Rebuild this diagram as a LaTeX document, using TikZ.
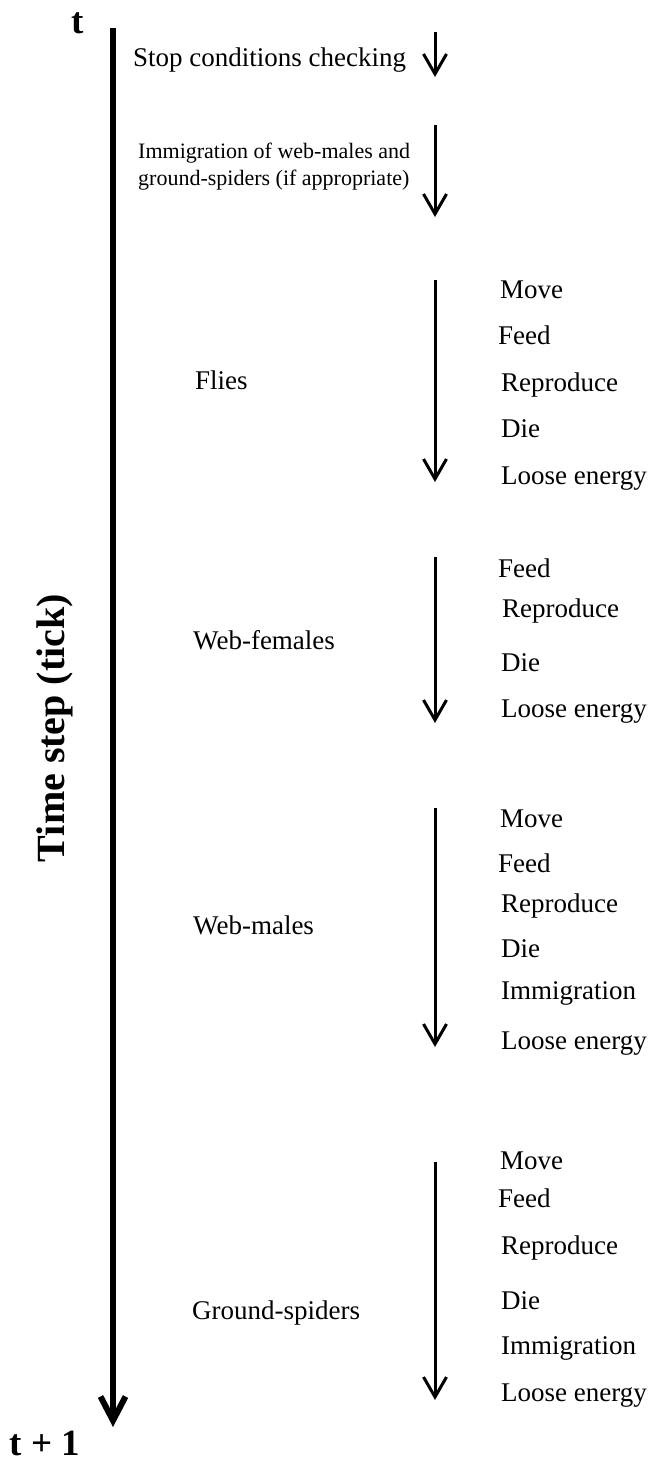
\documentclass[tikz,border=0pt]{standalone}
\usepackage{fontspec}
\setmainfont{Liberation Serif}
\usetikzlibrary{arrows.meta,positioning}

\begin{document}
\begin{tikzpicture}[x=1pt,y=-1pt,
    lbl/.style={anchor=west,inner sep=0pt,text height=18pt,text depth=0pt,font=\fontsize{27}{32}\selectfont},
    smalllbl/.style={anchor=west,inner sep=0pt,align=left,font=\fontsize{22}{27}\selectfont},
    boldlbl/.style={inner sep=0pt,font=\fontsize{37}{44}\selectfont\bfseries},
    axisarrow/.style={line width=6pt,-{Straight Barb[length=24pt,width=25pt,line width=6pt]}},
    steparrow/.style={line width=3pt,-{Straight Barb[length=20pt,width=23pt,line width=3pt]}}]
    \useasboundingbox (0,0) rectangle (651,1465);

    % Time axis
    \coordinate (axisTop) at (113,28);
    \coordinate (axisEnd) at (113,1427);
    \draw[axisarrow] (axisTop) -- (axisEnd);
    \node[boldlbl] (tStart) at (78,23) {t};
    \node[boldlbl] (tNext) at (45,1443) {t + 1};
    \node[boldlbl,rotate=90,font=\fontsize{40}{46}\selectfont\bfseries] (axisName) at (55,728) {Time step (tick)};

    % Stop conditions
    \node[lbl] (stopCheck) at (133,57) {Stop conditions checking};
    \coordinate (stopTop) at (435,32);
    \coordinate (stopEnd) at (435,77);
    \draw[steparrow] (stopTop) -- (stopEnd);

    % Immigration
    \node[smalllbl] (immig) at (138,167) {Immigration of web-males and\\ground-spiders (if appropriate)};
    \coordinate (immigTop) at (435,125);
    \coordinate (immigEnd) at (435,217);
    \draw[steparrow] (immigTop) -- (immigEnd);

    % Flies
    \node[lbl] (flies) at (195,380) {Flies};
    \coordinate (fliesTop) at (435,280);
    \coordinate (fliesEnd) at (435,482);
    \draw[steparrow] (fliesTop) -- (fliesEnd);
    \foreach \y/\x/\txt [count=\i] in {289/500/Move, 335/498/Feed, 382/501/Reproduce, 428/501/Die, 475/501/Loose energy}
        \node[lbl] (flies\i) at (\x,\y) {\txt};

    % Web-females
    \node[lbl] (webfemales) at (193,640) {Web-females};
    \coordinate (webfTop) at (435,557);
    \coordinate (webfEnd) at (435,723);
    \draw[steparrow] (webfTop) -- (webfEnd);
    \foreach \y/\x/\txt [count=\i] in {568/498/Feed, 608/502/Reproduce, 662/501/Die, 708/501/Loose energy}
        \node[lbl] (webf\i) at (\x,\y) {\txt};

    % Web-males
    \node[lbl] (webmales) at (193,925) {Web-males};
    \coordinate (webmTop) at (435,808);
    \coordinate (webmEnd) at (435,1047);
    \draw[steparrow] (webmTop) -- (webmEnd);
    \foreach \y/\x/\txt [count=\i] in {818/500/Move, 863/498/Feed, 903/501/Reproduce, 948/501/Die, 990/501/Immigration, 1040/501/Loose energy}
        \node[lbl] (webm\i) at (\x,\y) {\txt};

    % Ground-spiders
    \node[lbl] (ground) at (192,1310) {Ground-spiders};
    \coordinate (groundTop) at (435,1162);
    \coordinate (groundEnd) at (435,1400);
    \draw[steparrow] (groundTop) -- (groundEnd);
    \foreach \y/\x/\txt [count=\i] in {1160/500/Move, 1198/498/Feed, 1245/501/Reproduce, 1300/501/Die, 1345/501/Immigration, 1392/501/Loose energy}
        \node[lbl] (ground\i) at (\x,\y) {\txt};
\end{tikzpicture}
\end{document}
